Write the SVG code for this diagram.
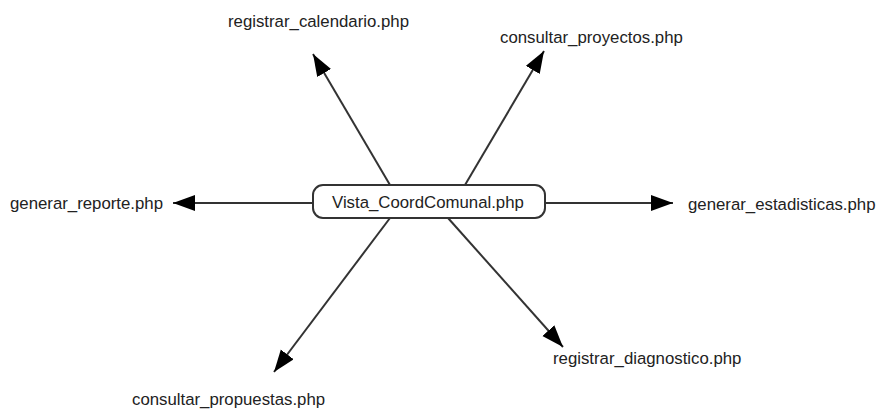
<svg xmlns="http://www.w3.org/2000/svg" width="877" height="411" viewBox="0 0 877 411">
<style>
.lbl{font-family:"Liberation Sans",Arial,sans-serif;font-size:16.8px;fill:#222}
.edge{stroke:#333;stroke-width:2;fill:none;marker-end:url(#ah)}
.node{fill:#fff;stroke:#333;stroke-width:2}
</style>
<defs>
<marker id="ah" markerUnits="userSpaceOnUse" markerWidth="24" markerHeight="18" refX="22" refY="8" orient="auto">
<path d="M0,0 L22,8 L0,16 z" fill="#000"/>
</marker>
</defs>
<rect width="877" height="411" fill="#fff"/>
<g id="connectors">
<line class="edge" x1="390" y1="185" x2="313" y2="54"/>
<line class="edge" x1="465" y1="185" x2="544" y2="51"/>
<line class="edge" x1="313" y1="203" x2="173" y2="203"/>
<line class="edge" x1="545" y1="203" x2="673" y2="203"/>
<line class="edge" x1="390" y1="218" x2="274" y2="372"/>
<line class="edge" x1="448" y1="218" x2="563" y2="347"/>
</g>
<g id="vista">
<rect class="node" x="313" y="185" width="232" height="33" rx="10"/>
<text class="lbl" x="332" y="208">Vista_CoordComunal.php</text>
</g>
<g id="registrar_calendario"><text class="lbl" x="228" y="27">registrar_calendario.php</text></g>
<g id="consultar_proyectos"><text class="lbl" x="500" y="43">consultar_proyectos.php</text></g>
<g id="generar_reporte"><text class="lbl" x="10" y="209">generar_reporte.php</text></g>
<g id="generar_estadisticas"><text class="lbl" x="688" y="210">generar_estadisticas.php</text></g>
<g id="consultar_propuestas"><text class="lbl" x="132" y="405">consultar_propuestas.php</text></g>
<g id="registrar_diagnostico"><text class="lbl" x="553" y="364">registrar_diagnostico.php</text></g>
</svg>
